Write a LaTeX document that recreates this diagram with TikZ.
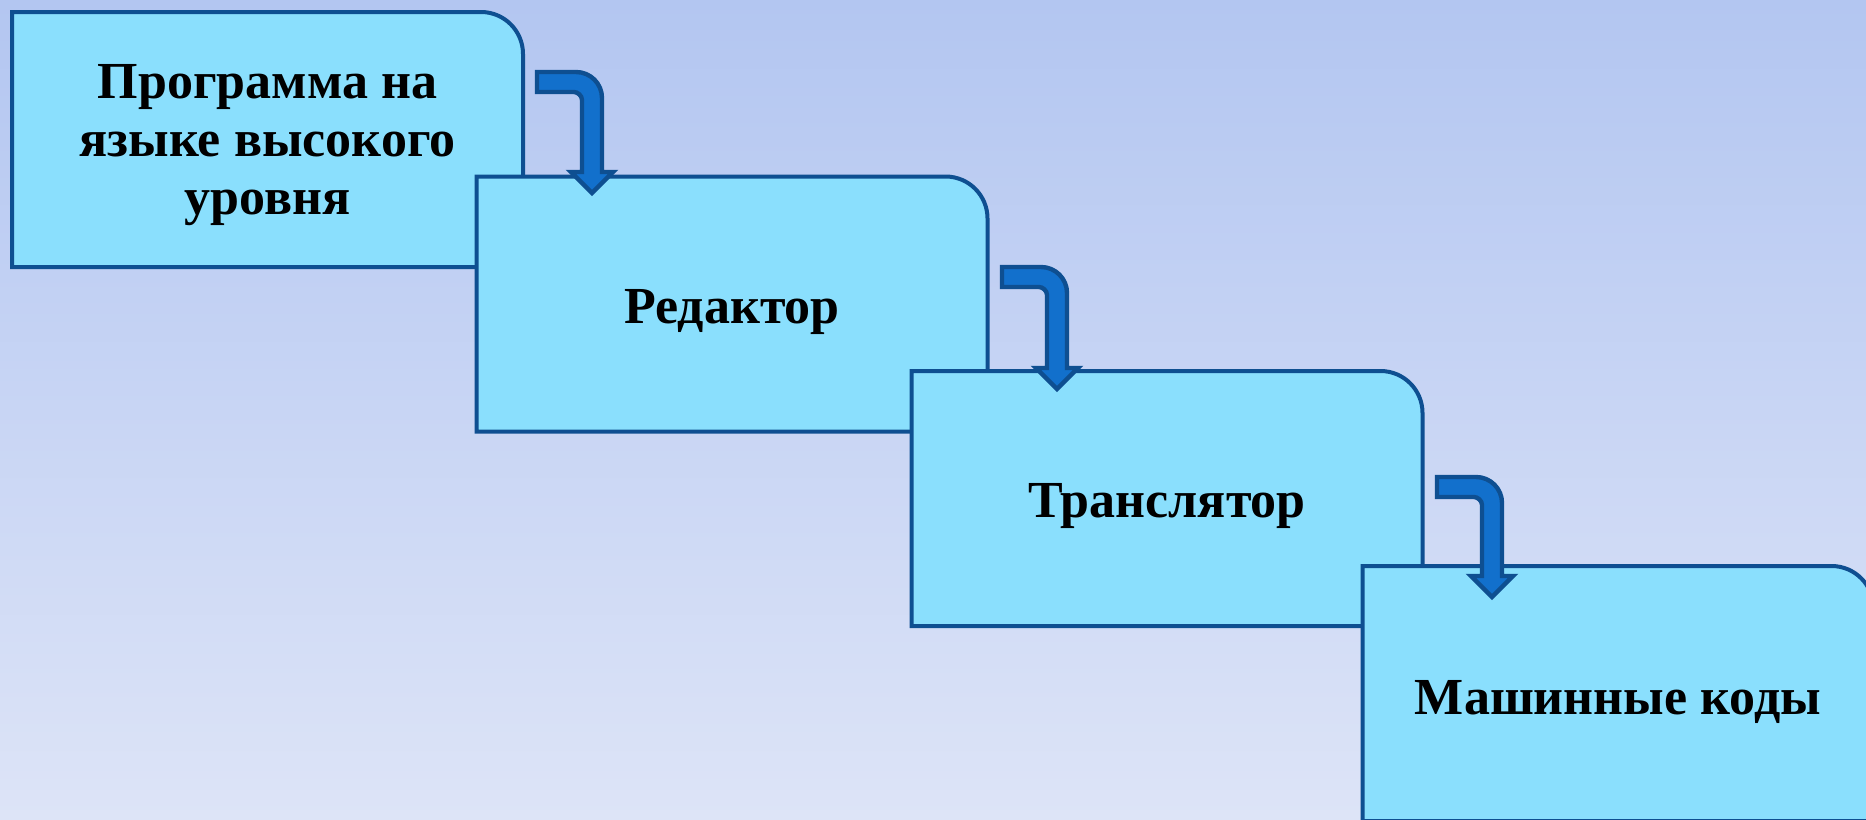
\documentclass[tikz,border=0pt]{standalone}
\usepackage{fontspec}
\setmainfont{Liberation Serif}
\usetikzlibrary{backgrounds}
\definecolor{bgtop}{HTML}{B3C6F1}
\definecolor{bgbot}{HTML}{DDE4F7}
\definecolor{boxfill}{HTML}{8ADFFD}
\definecolor{edge}{HTML}{0E4F91}
\definecolor{arrfill}{HTML}{1270CC}
\tikzset{
  boxtext/.style={minimum width=255.5pt, minimum height=127.5pt, inner sep=0pt, outer sep=0pt},
  boxlabel/.style={align=center, font=\fontsize{26}{29}\selectfont\bfseries, text=black, inner sep=0pt},
  boxshape/.style={fill=boxfill, draw=edge, line width=2pt, line join=miter},
  bentarrow/.style={fill=arrfill, draw=edge, line width=2.2pt, line join=miter}
}
\newcommand\roundbox[1]{%
  \draw[boxshape] (#1.south west) -- (#1.north west) -- ([xshift=-21pt]#1.north east)
    .. controls ([xshift=-9.4pt]#1.north east) and ([yshift=-9.4pt]#1.north east) ..
    ([yshift=-21pt]#1.north east) -- (#1.south east) -- cycle;}
% #1 start x, #2 top y, #3 shaft centre x, #4 head base y, #5 tip y
\newcommand\bentarr[5]{%
  \draw[bentarrow] (#1,#2) -- ({#3+10-26},#2)
    .. controls ({#3+10-11.6},#2) and ({#3+10},{#2+11.6}) .. ({#3+10},{#2+26})
    -- ({#3+10},#4) -- ({#3+21},#4) -- (#3,#5) -- ({#3-21},#4) -- ({#3-10},#4)
    -- ({#3-10},{#2+28})
    .. controls ({#3-10},{#2+23.6}) and ({#3-14.4},{#2+20}) .. ({#3-18},{#2+20})
    -- (#1,{#2+20}) -- cycle;}
\begin{document}
\begin{tikzpicture}[x=0.5pt,y=-0.5pt]
\useasboundingbox (0,0) rectangle (1866,819);
\node[boxtext] (b1) at (267.5,139.5) {};
\node[boxtext] (b2) at (732,304) {};
\node[boxtext] (b3) at (1167,498.5) {};
\node[boxtext] (b4) at (1618,693.5) {};
\node[boxlabel] (t1) at ([yshift=-3pt]b1.center) {Программа на\\языке высокого\\уровня};
\node[boxlabel] (t2) at ([yshift=-4pt]b2.center) {Редактор};
\node[boxlabel] (t3) at ([yshift=-4pt]b3.center) {Транслятор};
\node[boxlabel] (t4) at ([yshift=-4pt]b4.center) {Машинные коды};
\begin{scope}[on background layer]
  \shade[top color=bgtop, bottom color=bgbot] (0,0) rectangle (1866,819);
  \roundbox{b1}
  \roundbox{b2}
  \roundbox{b3}
  \roundbox{b4}
\end{scope}
\bentarr{537}{72}{592}{172}{193}
\bentarr{1002}{267}{1057}{368}{389}
\bentarr{1437}{477}{1492}{576}{597}
\end{tikzpicture}
\end{document}
